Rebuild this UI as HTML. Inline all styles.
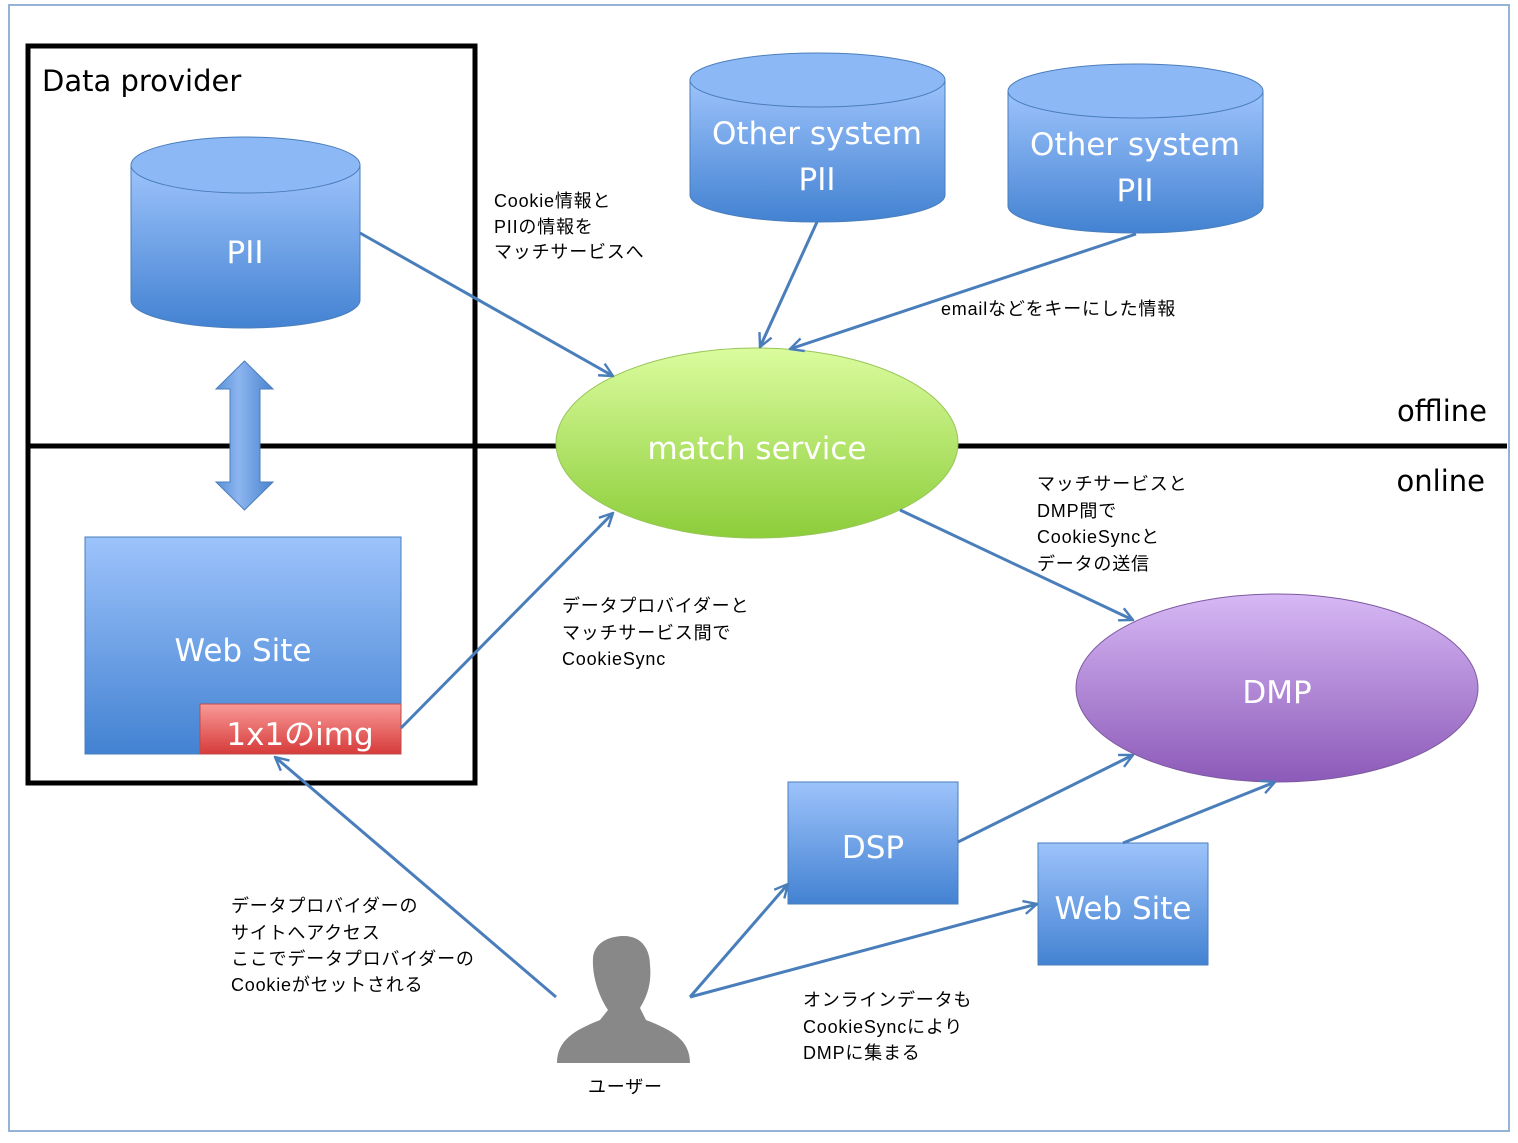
<!DOCTYPE html>
<html><head><meta charset="utf-8"><style>
body{margin:0;background:#fff}
svg{display:block}
text{font-family:"Liberation Sans","Noto Sans CJK JP",sans-serif}
.w{fill:#fff;font-size:31px;text-anchor:middle;font-family:"DejaVu Sans","Noto Sans CJK JP",sans-serif}
.s{fill:#000;font-size:18px;letter-spacing:0.8px}
.big{font-family:"DejaVu Sans",sans-serif;font-size:29px;fill:#000}
</style></head><body>
<svg width="1518" height="1143" viewBox="0 0 1518 1143" xmlns="http://www.w3.org/2000/svg">
<defs>
<linearGradient id="b" x1="0" y1="0" x2="0" y2="1"><stop offset="0" stop-color="#9dc3fb"/><stop offset="1" stop-color="#4382d2"/></linearGradient>
<linearGradient id="bh" x1="0" y1="0" x2="1" y2="0"><stop offset="0" stop-color="#5a91d8"/><stop offset="0.4" stop-color="#8cb5ef"/><stop offset="1" stop-color="#4a83cf"/></linearGradient>
<linearGradient id="g" x1="0" y1="0" x2="0" y2="1"><stop offset="0" stop-color="#dbfc9e"/><stop offset="1" stop-color="#8ccd3a"/></linearGradient>
<linearGradient id="p" x1="0" y1="0" x2="0" y2="1"><stop offset="0" stop-color="#d7b8f5"/><stop offset="1" stop-color="#8c5ab8"/></linearGradient>
<linearGradient id="r" x1="0" y1="0" x2="0" y2="1"><stop offset="0" stop-color="#f99a98"/><stop offset="1" stop-color="#d63b3a"/></linearGradient>
<marker id="a" viewBox="0 0 12 12" refX="11" refY="6" markerWidth="16" markerHeight="16" orient="auto" markerUnits="userSpaceOnUse"><path d="M1,1 L11,6 L1,11" fill="none" stroke="#4a7ebb" stroke-width="1.8"/></marker>
</defs>
<rect x="9" y="5" width="1500" height="1126" fill="#fff" stroke="#95b3d7" stroke-width="2"/>
<rect x="28" y="46" width="447" height="737" fill="none" stroke="#000" stroke-width="5"/>
<line x1="28" y1="446" x2="1507" y2="446" stroke="#000" stroke-width="5"/>
<text class="big" x="42" y="91">Data provider</text>
<text class="big" x="1487" y="421" text-anchor="end">offline</text>
<text class="big" x="1485" y="491" text-anchor="end">online</text>

<path d="M131,165 V300 A114.5,28 0 0 0 360,300 V165" fill="url(#b)" stroke="#4a7ebb"/>
<ellipse cx="245.5" cy="165" rx="114.5" ry="28" fill="#8db8f6" stroke="#4a7ebb"/>
<text class="w" x="245" y="263">PII</text>
<path d="M690,80 V195 A127.5,27 0 0 0 945,195 V80" fill="url(#b)" stroke="#4a7ebb"/>
<ellipse cx="817.5" cy="80" rx="127.5" ry="27" fill="#8db8f6" stroke="#4a7ebb"/>
<text class="w" x="817" y="144">Other system</text><text class="w" x="817" y="190">PII</text>
<path d="M1008,91 V206 A127.5,27 0 0 0 1263,206 V91" fill="url(#b)" stroke="#4a7ebb"/>
<ellipse cx="1135.5" cy="91" rx="127.5" ry="27" fill="#8db8f6" stroke="#4a7ebb"/>
<text class="w" x="1135" y="155">Other system</text><text class="w" x="1135" y="201">PII</text>

<path d="M244.5,361 L273,389 H260 V482 H273 L244.5,510 L216,482 H230 V389 H216 Z" fill="url(#bh)" stroke="#4a7ebb"/>

<rect x="85" y="537" width="316" height="217" fill="url(#b)" stroke="#4a7ebb"/>
<text class="w" x="243" y="661">Web Site</text>
<rect x="200" y="704" width="201" height="50" fill="url(#r)" stroke="#be4b48"/>
<text class="w" x="300" y="745">1x1のimg</text>

<ellipse cx="757" cy="443" rx="201" ry="95" fill="url(#g)" stroke="#98c55a"/>
<text class="w" x="757" y="459">match service</text>
<ellipse cx="1277" cy="688" rx="201" ry="94" fill="url(#p)" stroke="#7d5aa0"/>
<text class="w" x="1277" y="703">DMP</text>

<rect x="788" y="782" width="170" height="122" fill="url(#b)" stroke="#4a7ebb"/>
<text class="w" x="873" y="858">DSP</text>
<rect x="1038" y="843" width="170" height="122" fill="url(#b)" stroke="#4a7ebb"/>
<text class="w" x="1123" y="919">Web Site</text>

<path d="M557,1063 C557,1040 575,1030 600,1020 L608,1010 C598,995 592,975 593,958 C594,945 605,937 622,936 C640,935 650,948 650,965 C652,985 646,998 640,1008 L646,1020 C672,1030 690,1040 690,1063 Z" fill="#888"/>
<text class="s" x="588" y="1093">ユーザー</text>

<g stroke="#4a7ebb" stroke-width="3" fill="none" marker-end="url(#a)">
<line x1="360" y1="233" x2="613" y2="376"/>
<line x1="817" y1="222" x2="760" y2="347"/>
<line x1="1136" y1="234" x2="790" y2="349"/>
<line x1="401" y1="728" x2="613" y2="513"/>
<line x1="900" y1="510" x2="1133" y2="620"/>
<line x1="958" y1="842" x2="1133" y2="755"/>
<line x1="1123" y1="843" x2="1275" y2="782"/>
<line x1="556" y1="997" x2="275" y2="757"/>
<line x1="690" y1="997" x2="788" y2="884"/>
<line x1="690" y1="997" x2="1037" y2="904"/>
</g>

<text class="s" x="494" y="207">Cookie情報と</text>
<text class="s" x="494" y="233">PIIの情報を</text>
<text class="s" x="494" y="258">マッチサービスへ</text>
<text class="s" x="941" y="315">emailなどをキーにした情報</text>
<text class="s" x="1037" y="490">マッチサービスと</text>
<text class="s" x="1037" y="517">DMP間で</text>
<text class="s" x="1037" y="543">CookieSyncと</text>
<text class="s" x="1037" y="570">データの送信</text>
<text class="s" x="562" y="612">データプロバイダーと</text>
<text class="s" x="562" y="639">マッチサービス間で</text>
<text class="s" x="562" y="665">CookieSync</text>
<text class="s" x="231" y="912">データプロバイダーの</text>
<text class="s" x="231" y="939">サイトへアクセス</text>
<text class="s" x="231" y="965">ここでデータプロバイダーの</text>
<text class="s" x="231" y="991">Cookieがセットされる</text>
<text class="s" x="803" y="1006">オンラインデータも</text>
<text class="s" x="803" y="1033">CookieSyncにより</text>
<text class="s" x="803" y="1059">DMPに集まる</text>
</svg>
</body></html>
